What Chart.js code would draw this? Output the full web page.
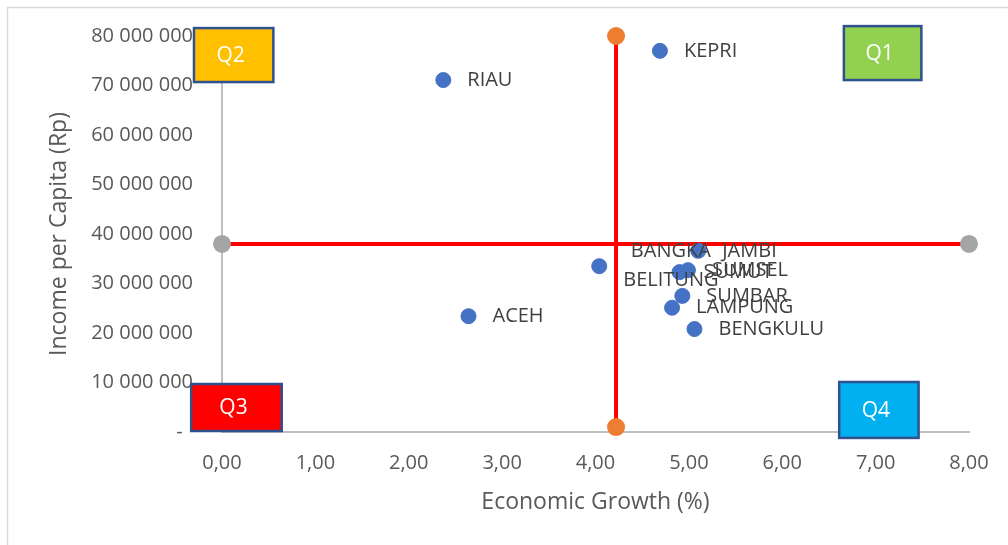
<!DOCTYPE html>
<html>
<head>
<meta charset="utf-8">
<script src="https://cdn.jsdelivr.net/npm/chart.js@4/dist/chart.umd.min.js"></script>
<style>
  html, body { margin: 0; padding: 0; background: #fff; }
  #wrap { width: 1008px; height: 545px; position: relative; }
</style>
</head>
<body>
<div id="wrap"><canvas id="c" width="1008" height="545"></canvas></div>
<script>
// ---- data ----
const provinces = ["RIAU", "KEPRI", "ACEH", "BANGKA BELITUNG", "JAMBI", "SUMUT", "SUMSEL", "SUMBAR", "LAMPUNG", "BENGKULU"];
const growth    = [2.37, 4.69, 2.64, 4.04, 5.10, 4.90, 4.99, 4.93, 4.82, 5.06];
const income    = [71100000, 77000000, 23400000, 33500000, 36600000, 32300000, 32700000, 27500000, 25100000, 20800000];

const meanGrowth = 4.22;
const meanIncome = 38000000;
const vLineY = [1000000, 80000000];
const hLineX = [0, 8];

const xTicks = [0, 1, 2, 3, 4, 5, 6, 7, 8];
const yTicks = [0, 10000000, 20000000, 30000000, 40000000, 50000000, 60000000, 70000000, 80000000];

const quadrants = [
  { label: "Q1", fill: "#92D050", x0: 6.66, x1: 7.49, y0: 71100000, y1: 82000000 },
  { label: "Q2", fill: "#FFC000", x0: -0.30, x1: 0.55, y0: 70700000, y1: 81600000 },
  { label: "Q3", fill: "#FF0000", x0: -0.33, x1: 0.64, y0: 200000, y1: 9700000 },
  { label: "Q4", fill: "#00B0F0", x0: 6.61, x1: 7.46, y0: -1200000, y1: 10100000 }
];

const FONT = "'Open Sans', 'Noto Sans', sans-serif";

const points = provinces.map((p, i) => ({ x: growth[i], y: income[i], name: p }));

function fmtY(v) {
  if (v === 0) return "-  ";
  return String(Math.round(v)).replace(/\B(?=(\d{3})+(?!\d))/g, " ");
}
function fmtX(v) { return v.toFixed(2).replace(".", ","); }

const framePlugin = {
  id: "frame",
  beforeDraw(chart) {
    const ctx = chart.ctx;
    ctx.save();
    ctx.fillStyle = "#fff";
    ctx.fillRect(0, 0, chart.width, chart.height);
    ctx.strokeStyle = "#D9D9D9";
    ctx.lineWidth = 1.5;
    ctx.strokeRect(7.5, 7.5, chart.width + 20, chart.height + 20);
    ctx.restore();
  }
};

const labelPlugin = {
  id: "labels",
  afterDatasetsDraw(chart) {
    const ctx = chart.ctx;
    const meta = chart.getDatasetMeta(0);
    ctx.save();
    ctx.font = "20px " + FONT;
    ctx.fillStyle = "#404040";
    ctx.textBaseline = "middle";
    meta.data.forEach((el, i) => {
      const name = provinces[i];
      const lines = name === "BANGKA BELITUNG" ? ["BANGKA", "BELITUNG"] : [name];
      const widths = lines.map(l => ctx.measureText(l).width);
      const maxW = Math.max(...widths);
      const left = el.x + 24;
      const lh = 29;
      const top = el.y - (lines.length - 1) * lh / 2;
      lines.forEach((l, j) => {
        ctx.textAlign = "left";
        ctx.fillText(l, left + (maxW - widths[j]) / 2, top + j * lh);
      });
    });
    // quadrant boxes
    const xs = chart.scales.x, ys = chart.scales.y;
    quadrants.forEach(q => {
      const px0 = xs.getPixelForValue(q.x0), px1 = xs.getPixelForValue(q.x1);
      const py0 = ys.getPixelForValue(q.y1), py1 = ys.getPixelForValue(q.y0);
      ctx.fillStyle = q.fill;
      ctx.fillRect(px0, py0, px1 - px0, py1 - py0);
      ctx.strokeStyle = "#2F528F";
      ctx.lineWidth = 2.5;
      ctx.strokeRect(px0, py0, px1 - px0, py1 - py0);
      ctx.fillStyle = "#fff";
      ctx.textAlign = "center";
      ctx.textBaseline = "middle";
      ctx.font = "21px " + FONT;
      ctx.fillText(q.label, (px0 + px1) / 2 - 3, (py0 + py1) / 2 + 1);
    });
    ctx.restore();
  }
};

new Chart(document.getElementById("c"), {
  type: "scatter",
  data: {
    datasets: [
      {
        label: "Provinces",
        data: points,
        backgroundColor: "#4472C4",
        borderColor: "#4472C4",
        pointRadius: 7.5,
        clip: false,
        order: 0
      },
      {
        label: "Mean growth",
        data: vLineY.map(y => ({ x: meanGrowth, y })),
        showLine: true,
        borderColor: "#FF0000",
        borderWidth: 4,
        backgroundColor: "#ED7D31",
        pointBackgroundColor: "#ED7D31",
        pointBorderColor: "#ED7D31",
        pointRadius: 7,
        clip: false,
        order: 1
      },
      {
        label: "Mean income",
        data: hLineX.map(x => ({ x, y: meanIncome })),
        showLine: true,
        borderColor: "#FF0000",
        borderWidth: 4,
        backgroundColor: "#A5A5A5",
        pointBackgroundColor: "#A5A5A5",
        pointBorderColor: "#A5A5A5",
        pointRadius: 7,
        clip: false,
        order: 2
      }
    ]
  },
  options: {
    responsive: false,
    animation: false,
    devicePixelRatio: 1,
    layout: { padding: { top: 36, right: 39, left: 0, bottom: 0 } },
    plugins: {
      legend: { display: false },
      tooltip: { enabled: false }
    },
    scales: {
      x: {
        type: "linear",
        min: 0, max: 8,
        afterFit(s) { s.height = 113; s.paddingLeft = 0; s.paddingRight = 0; },
        afterBuildTicks(s) { s.ticks = xTicks.map(v => ({ value: v })); },
        grid: { display: true, drawOnChartArea: false, drawTicks: false },
        border: { display: true, color: "#BFBFBF", width: 2 },
        ticks: { callback: v => fmtX(v), color: "#595959", font: { family: FONT, size: 20 }, padding: 19, maxRotation: 0 },
        title: { display: true, text: "Economic Growth (%)", color: "#595959", font: { family: FONT, size: 23 }, padding: { top: 0, bottom: 29 } }
      },
      y: {
        type: "linear",
        min: 0, max: 80000000,
        afterFit(s) { s.width = 222; s.paddingTop = 0; s.paddingBottom = 0; },
        afterBuildTicks(s) { s.ticks = yTicks.map(v => ({ value: v })); },
        grid: { display: true, drawOnChartArea: false, drawTicks: false },
        border: { display: true, color: "#BFBFBF", width: 2 },
        ticks: { callback: v => fmtY(v), color: "#595959", font: { family: FONT, size: 20 }, padding: 29 },
        title: { display: true, text: "Income per Capita (Rp)", color: "#595959", font: { family: FONT, size: 23 }, padding: { top: 46, bottom: 0 } }
      }
    }
  },
  plugins: [framePlugin, labelPlugin]
});
</script>
</body>
</html>
